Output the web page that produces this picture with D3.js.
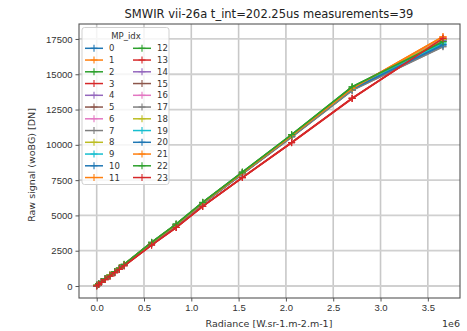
<!DOCTYPE html>
<html>
<head>
<meta charset="utf-8">
<script src="https://cdn.jsdelivr.net/npm/d3@7/dist/d3.min.js"></script>
<style>
  body { margin: 0; background: #fff; }
  svg { display: block; font-family: "DejaVu Sans", sans-serif; }
</style>
</head>
<body>
<div id="chart"></div>
<script>
// radiance of each measurement step [W.sr-1.m-2.m-1]
const radiance = [0, 0.02e6, 0.05e6, 0.09e6, 0.14e6, 0.19e6, 0.24e6, 0.29e6, 0.58e6, 0.84e6, 1.12e6, 1.54e6, 2.06e6, 2.70e6, 3.66e6];

// raw signal (woBG) per MP_idx
const signal0  = [30, 140, 290, 490, 740, 990, 1240, 1490, 3040, 4320, 5860, 7990, 10620, 13960, 17070];
const signal1  = [40, 150, 300, 500, 750, 1000, 1250, 1500, 3050, 4330, 5870, 8000, 10640, 13980, 17620];
const signal2  = [50, 160, 310, 510, 765, 1015, 1270, 1530, 3090, 4380, 5920, 8060, 10710, 14100, 17330];
const signal3  = [10, 110, 260, 455, 700, 945, 1190, 1430, 2900, 4140, 5640, 7680, 10160, 13290, 17520];
const signal4  = [35, 145, 295, 495, 745, 995, 1245, 1495, 3045, 4325, 5865, 7995, 10630, 13970, 17380];
const signal5  = [30, 140, 290, 490, 740, 990, 1240, 1490, 3030, 4310, 5850, 7970, 10590, 13880, 17450];
const signal6  = [35, 145, 295, 495, 745, 995, 1250, 1500, 3050, 4330, 5870, 8000, 10630, 13960, 17550];
const signal7  = [25, 135, 285, 480, 730, 980, 1230, 1480, 3010, 4290, 5820, 7940, 10550, 13860, 16950];
const signal8  = [40, 150, 300, 500, 755, 1005, 1255, 1505, 3060, 4340, 5880, 8010, 10650, 13980, 17480];
const signal9  = [35, 145, 295, 495, 745, 995, 1245, 1495, 3040, 4320, 5860, 7990, 10620, 13950, 17200];
const signal10 = [30, 140, 290, 490, 740, 990, 1240, 1490, 3035, 4315, 5855, 7985, 10610, 13950, 17100];
const signal11 = [45, 155, 305, 505, 760, 1010, 1260, 1510, 3060, 4340, 5880, 8010, 10650, 13990, 17660];
const signal12 = [50, 160, 310, 510, 760, 1010, 1265, 1525, 3085, 4375, 5915, 8050, 10700, 14080, 17300];
const signal13 = [15, 115, 265, 460, 705, 950, 1195, 1435, 2910, 4150, 5650, 7690, 10170, 13310, 17500];
const signal14 = [35, 145, 295, 495, 745, 995, 1245, 1495, 3045, 4325, 5865, 7995, 10625, 13960, 17400];
const signal15 = [30, 140, 290, 490, 740, 990, 1240, 1490, 3030, 4310, 5850, 7970, 10590, 13890, 17460];
const signal16 = [35, 145, 295, 495, 745, 995, 1250, 1500, 3050, 4330, 5870, 8000, 10630, 13960, 17560];
const signal17 = [25, 135, 285, 480, 730, 980, 1230, 1480, 3010, 4290, 5820, 7940, 10550, 13870, 16960];
const signal18 = [40, 150, 300, 500, 755, 1005, 1255, 1505, 3060, 4340, 5880, 8010, 10650, 13980, 17470];
const signal19 = [35, 145, 295, 495, 745, 995, 1245, 1495, 3040, 4320, 5860, 7990, 10620, 13950, 17210];
const signal20 = [30, 140, 290, 490, 740, 990, 1240, 1490, 3040, 4320, 5860, 7990, 10620, 13960, 17080];
const signal21 = [40, 150, 300, 500, 755, 1005, 1255, 1505, 3055, 4335, 5875, 8005, 10645, 13985, 17650];
const signal22 = [55, 165, 315, 515, 770, 1020, 1275, 1535, 3095, 4385, 5925, 8065, 10720, 14110, 17310];
const signal23 = [10, 110, 260, 455, 700, 945, 1190, 1430, 2900, 4140, 5640, 7680, 10150, 13280, 17540];

const signals = [signal0, signal1, signal2, signal3, signal4, signal5, signal6, signal7,
  signal8, signal9, signal10, signal11, signal12, signal13, signal14, signal15,
  signal16, signal17, signal18, signal19, signal20, signal21, signal22, signal23];

const xTicks = [0, 0.5e6, 1.0e6, 1.5e6, 2.0e6, 2.5e6, 3.0e6, 3.5e6];
const yTicks = [0, 2500, 5000, 7500, 10000, 12500, 15000, 17500];
const palette = ["#1f77b4", "#ff7f0e", "#2ca02c", "#d62728", "#9467bd",
  "#8c564b", "#e377c2", "#7f7f7f", "#bcbd22", "#17becf"];

const width = 467, height = 331;
const plotLeft = 79, plotRight = 460, plotTop = 24, plotBottom = 298;

const svg = d3.select("#chart").append("svg")
    .attr("width", width)
    .attr("height", height);

const x = d3.scaleLinear().domain([-0.187e6, 3.84e6]).range([plotLeft, plotRight]);
const y = d3.scaleLinear().domain([-850, 18560]).range([plotBottom, plotTop]);

// grid
const grid = svg.append("g");
grid.selectAll(".vg").data(xTicks).enter().append("line")
    .attr("x1", d => x(d)).attr("x2", d => x(d))
    .attr("y1", plotTop).attr("y2", plotBottom)
    .attr("stroke", "#c8c8c8").attr("stroke-width", 1.6);
grid.selectAll(".hg").data(yTicks).enter().append("line")
    .attr("x1", plotLeft).attr("x2", plotRight)
    .attr("y1", d => y(d)).attr("y2", d => y(d))
    .attr("stroke", "#d0d0d0").attr("stroke-width", 1.8);

// axes
const xAxis = d3.axisBottom(x).tickValues(xTicks).tickSize(3.5).tickPadding(3)
    .tickFormat(d => (d / 1e6).toFixed(1));
const yAxis = d3.axisLeft(y).tickValues(yTicks).tickSize(3.5).tickPadding(3)
    .tickFormat(d => String(d));

const gx = svg.append("g").attr("transform", `translate(0,${plotBottom})`).call(xAxis);
const gy = svg.append("g").attr("transform", `translate(${plotLeft},0)`).call(yAxis);
[gx, gy].forEach(g => {
  g.select(".domain").remove();
  g.selectAll(".tick line").attr("stroke", "#444").attr("stroke-width", 0.9);
  g.selectAll(".tick text").attr("fill", "#333").style("font-size", "9.5px");
});

// series
const line = d3.line().x((d, i) => x(radiance[i])).y(d => y(d));
const plus = (cx, cy, r) => `M${cx - r},${cy}H${cx + r}M${cx},${cy - r}V${cy + r}`;

const plot = svg.append("g");
signals.forEach((s, k) => {
  const c = palette[k % 10];
  plot.append("path").datum(s)
      .attr("d", line)
      .attr("fill", "none")
      .attr("stroke", c)
      .attr("stroke-width", 1.7);
  plot.append("path")
      .attr("d", s.map((v, i) => plus(x(radiance[i]), y(v), 3.5)).join(""))
      .attr("stroke", c)
      .attr("stroke-width", 1.1)
      .attr("fill", "none");
});

// frame
svg.append("rect")
    .attr("x", plotLeft).attr("y", plotTop)
    .attr("width", plotRight - plotLeft).attr("height", plotBottom - plotTop)
    .attr("fill", "none").attr("stroke", "#555").attr("stroke-width", 1.1);

// legend
const lg = svg.append("g");
lg.append("rect")
    .attr("x", 82).attr("y", 27.5).attr("width", 87).attr("height", 157)
    .attr("rx", 2.5)
    .attr("fill", "#fff").attr("fill-opacity", 0.8)
    .attr("stroke", "#cccccc").attr("stroke-width", 0.9);
lg.append("text")
    .attr("x", 126).attr("y", 38.5)
    .attr("text-anchor", "middle")
    .attr("fill", "#333").style("font-size", "8.5px")
    .text("MP_idx");
signals.forEach((s, k) => {
  const col = Math.floor(k / 12);
  const row = k % 12;
  const lx = col === 0 ? 85 : 133;
  const ly = 48.3 + row * 11.75;
  const c = palette[k % 10];
  lg.append("line")
      .attr("x1", lx).attr("x2", lx + 18)
      .attr("y1", ly).attr("y2", ly)
      .attr("stroke", c).attr("stroke-width", 1.5);
  lg.append("path")
      .attr("d", plus(lx + 9, ly, 3.5))
      .attr("stroke", c).attr("stroke-width", 1.1);
  lg.append("text")
      .attr("x", lx + 24).attr("y", ly + 3)
      .attr("fill", "#333").style("font-size", "8.5px")
      .text(k);
});

// labels
svg.append("text")
    .attr("x", 269).attr("y", 17.5)
    .attr("text-anchor", "middle")
    .attr("fill", "#222").style("font-size", "11.5px")
    .text("SMWIR vii-26a t_int=202.25us measurements=39");
svg.append("text")
    .attr("x", 269).attr("y", 327)
    .attr("text-anchor", "middle")
    .attr("fill", "#333").style("font-size", "9.5px")
    .text("Radiance [W.sr-1.m-2.m-1]");
svg.append("text")
    .attr("x", 460).attr("y", 327)
    .attr("text-anchor", "end")
    .attr("fill", "#333").style("font-size", "9.5px")
    .text("1e6");
svg.append("text")
    .attr("transform", "translate(35,165) rotate(-90)")
    .attr("text-anchor", "middle")
    .attr("fill", "#333").style("font-size", "9.5px")
    .text("Raw signal (woBG) [DN]");
</script>
</body>
</html>
